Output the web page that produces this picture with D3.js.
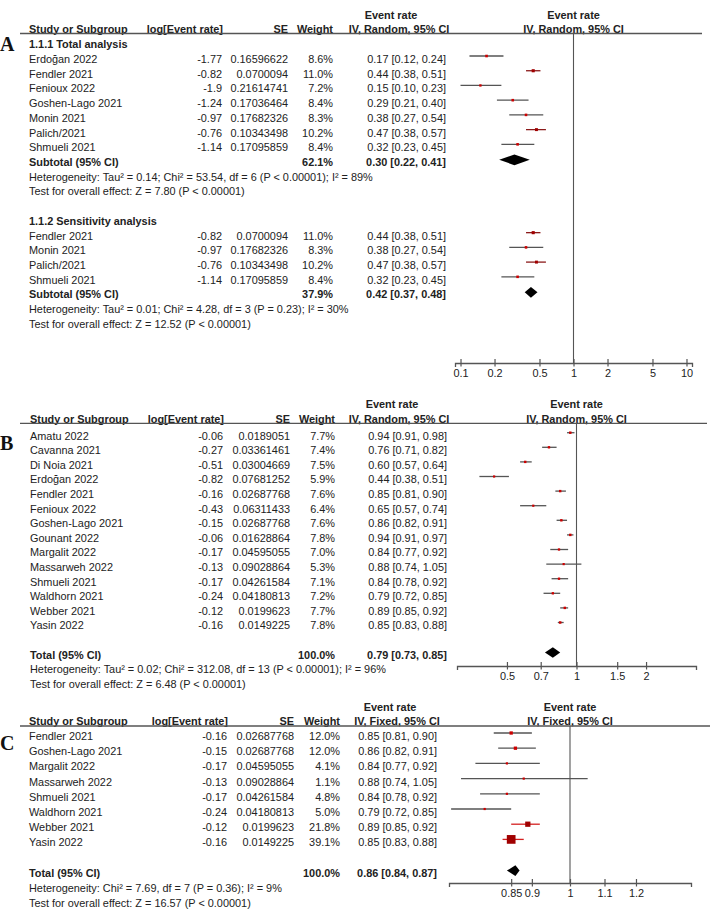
<!DOCTYPE html>
<html>
<head>
<meta charset="utf-8">
<script src="https://cdn.jsdelivr.net/npm/d3@7"></script>
<style>
  body { margin: 0; background: #fff; }
  svg text { font-family: "Liberation Sans", Arial, sans-serif; font-size: 10.9px; fill: #222; }
</style>
</head>
<body>
<div id="chart"></div>
<script>
// ---- panel A, 1.1.1 total analysis
const namesA1 = ["Erdoğan 2022", "Fendler 2021", "Fenioux 2022", "Goshen-Lago 2021", "Monin 2021", "Palich/2021", "Shmueli 2021"];
const logA1 = [-1.77, -0.82, -1.9, -1.24, -0.97, -0.76, -1.14];
const seA1 = [0.16596622, 0.0700094, 0.21614741, 0.17036464, 0.17682326, 0.10343498, 0.17095859];
const wA1 = [8.6, 11.0, 7.2, 8.4, 8.3, 10.2, 8.4];
const erA1 = [0.17, 0.44, 0.15, 0.29, 0.38, 0.47, 0.32];
const loA1 = [0.12, 0.38, 0.10, 0.21, 0.27, 0.38, 0.23];
const hiA1 = [0.24, 0.51, 0.23, 0.40, 0.54, 0.57, 0.45];

// ---- panel A, 1.1.2 sensitivity analysis
const namesA2 = ["Fendler 2021", "Monin 2021", "Palich/2021", "Shmueli 2021"];
const logA2 = [-0.82, -0.97, -0.76, -1.14];
const seA2 = [0.0700094, 0.17682326, 0.10343498, 0.17095859];
const wA2 = [11.0, 8.3, 10.2, 8.4];
const erA2 = [0.44, 0.38, 0.47, 0.32];
const loA2 = [0.38, 0.27, 0.38, 0.23];
const hiA2 = [0.51, 0.54, 0.57, 0.45];

const subWA = [62.1, 37.9];
const subErA = [0.30, 0.42];
const subLoA = [0.22, 0.37];
const subHiA = [0.41, 0.48];
const hetA = ["Heterogeneity: Tau² = 0.14; Chi² = 53.54, df = 6 (P < 0.00001); I² = 89%",
              "Heterogeneity: Tau² = 0.01; Chi² = 4.28, df = 3 (P = 0.23); I² = 30%"];
const testA = ["Test for overall effect: Z = 7.80 (P < 0.00001)",
               "Test for overall effect: Z = 12.52 (P < 0.00001)"];
const ticksA = [0.1, 0.2, 0.5, 1, 2, 5, 10];

// ---- panel B
const namesB = ["Amatu 2022", "Cavanna 2021", "Di Noia 2021", "Erdoğan 2022", "Fendler 2021", "Fenioux 2022",
  "Goshen-Lago 2021", "Gounant 2022", "Margalit 2022", "Massarweh 2022", "Shmueli 2021", "Waldhorn 2021",
  "Webber 2021", "Yasin 2022"];
const logB = [-0.06, -0.27, -0.51, -0.82, -0.16, -0.43, -0.15, -0.06, -0.17, -0.13, -0.17, -0.24, -0.12, -0.16];
const seB = [0.0189051, 0.03361461, 0.03004669, 0.07681252, 0.02687768, 0.06311433, 0.02687768, 0.01628864,
  0.04595055, 0.09028864, 0.04261584, 0.04180813, 0.0199623, 0.0149225];
const wB = [7.7, 7.4, 7.5, 5.9, 7.6, 6.4, 7.6, 7.8, 7.0, 5.3, 7.1, 7.2, 7.7, 7.8];
const erB = [0.94, 0.76, 0.60, 0.44, 0.85, 0.65, 0.86, 0.94, 0.84, 0.88, 0.84, 0.79, 0.89, 0.85];
const loB = [0.91, 0.71, 0.57, 0.38, 0.81, 0.57, 0.82, 0.91, 0.77, 0.74, 0.78, 0.72, 0.85, 0.83];
const hiB = [0.98, 0.82, 0.64, 0.51, 0.90, 0.74, 0.91, 0.97, 0.92, 1.05, 0.92, 0.85, 0.92, 0.88];
const totB = [100.0, 0.79, 0.73, 0.85];
const hetB = "Heterogeneity: Tau² = 0.02; Chi² = 312.08, df = 13 (P < 0.00001); I² = 96%";
const testB = "Test for overall effect: Z = 6.48 (P < 0.00001)";
const ticksB = [0.5, 0.7, 1, 1.5, 2];

// ---- panel C
const namesC = ["Fendler 2021", "Goshen-Lago 2021", "Margalit 2022", "Massarweh 2022", "Shmueli 2021",
  "Waldhorn 2021", "Webber 2021", "Yasin 2022"];
const logC = [-0.16, -0.15, -0.17, -0.13, -0.17, -0.24, -0.12, -0.16];
const seC = [0.02687768, 0.02687768, 0.04595055, 0.09028864, 0.04261584, 0.04180813, 0.0199623, 0.0149225];
const wC = [12.0, 12.0, 4.1, 1.1, 4.8, 5.0, 21.8, 39.1];
const erC = [0.85, 0.86, 0.84, 0.88, 0.84, 0.79, 0.89, 0.85];
const loC = [0.81, 0.82, 0.77, 0.74, 0.78, 0.72, 0.85, 0.83];
const hiC = [0.90, 0.91, 0.92, 1.05, 0.92, 0.85, 0.92, 0.88];
const totC = [100.0, 0.86, 0.84, 0.87];
const hetC = "Heterogeneity: Chi² = 7.69, df = 7 (P = 0.36); I² = 9%";
const testC = "Test for overall effect: Z = 16.57 (P < 0.00001)";
const ticksC = [0.85, 0.9, 1, 1.1, 1.2];

function studies(names, logs, ses, ws, ers, los, his) {
  return names.map((n, i) => ({type: "study", name: n, log: logs[i], se: ses[i], w: ws[i], er: ers[i], lo: los[i], hi: his[i]}));
}
const sum = (label, w, er, lo, hi) => ({type: "sum", label, w, er, lo, hi});
const note = text => ({type: "note", text});
const blank = {type: "blank"};

const rowsA = [
  {type: "heading", text: "1.1.1 Total analysis"},
  ...studies(namesA1, logA1, seA1, wA1, erA1, loA1, hiA1),
  sum("Subtotal (95% CI)", subWA[0], subErA[0], subLoA[0], subHiA[0]),
  note(hetA[0]), note(testA[0]), blank,
  {type: "heading", text: "1.1.2 Sensitivity analysis"},
  ...studies(namesA2, logA2, seA2, wA2, erA2, loA2, hiA2),
  sum("Subtotal (95% CI)", subWA[1], subErA[1], subLoA[1], subHiA[1]),
  note(hetA[1]), note(testA[1])
];
const rowsB = [
  ...studies(namesB, logB, seB, wB, erB, loB, hiB), blank,
  sum("Total (95% CI)", ...totB), note(hetB), note(testB)
];
const rowsC = [
  ...studies(namesC, logC, seC, wC, erC, loC, hiC), blank,
  sum("Total (95% CI)", ...totC), note(hetC), note(testC)
];

const svg = d3.select("#chart").append("svg").attr("width", 714).attr("height", 915);

const fmt2 = d => d.toFixed(2);
const ciText = r => `${fmt2(r.er)} [${fmt2(r.lo)}, ${fmt2(r.hi)}]`;
const boxSize = w => Math.max(2.2, 0.2 * w + 0.9);

function drawPanel(p) {
  const g = svg.append("g");
  const x = d3.scaleLog().domain(p.domain).range(p.range);
  const mid = x(1);

  g.append("text").attr("x", 0).attr("y", p.letterY).text(p.letter)
    .style("font-family", '"Liberation Serif", "Times New Roman", serif')
    .style("font-weight", "bold").style("font-size", "20px").style("fill", "#111");

  // column headers
  const bold = (t, xx, yy, anchor) => g.append("text").attr("x", xx).attr("y", yy)
    .attr("text-anchor", anchor).style("font-weight", "bold").text(t);
  bold("Event rate", p.evX, p.h1, "middle");
  bold("Event rate", mid, p.h1, "middle");
  bold("Study or Subgroup", p.studyX, p.rule - 0.6, "start");
  bold("log[Event rate]", p.logR + 1, p.rule - 0.6, "end");
  bold("SE", p.seR, p.rule - 0.6, "end");
  bold("Weight", p.wR, p.rule - 0.6, "end");
  bold(p.method, p.ivX, p.rule - 0.6, "middle");
  bold(p.method, mid, p.rule - 0.6, "middle");
  g.append("line").attr("x1", 20).attr("x2", p.ruleEnd).attr("y1", p.rule).attr("y2", p.rule)
    .attr("stroke", "#555").attr("stroke-width", 1.3);

  // null line
  g.append("line").attr("x1", mid).attr("x2", mid).attr("y1", p.rule).attr("y2", p.axisY)
    .attr("stroke", "#555").attr("stroke-width", 1.1);

  p.rows.forEach((r, i) => {
    const yc = p.firstRow + i * p.pitch;
    const yb = yc + 3.9;
    const ym = yc - 3;
    const txt = (t, xx, anchor, isBold) => g.append("text").attr("x", xx).attr("y", yb)
      .attr("text-anchor", anchor).style("font-weight", isBold ? "bold" : "normal").text(t);
    if (r.type === "heading") {
      txt(r.text, p.studyX, "start", true);
    } else if (r.type === "note") {
      txt(r.text, p.studyX, "start", false);
    } else if (r.type === "study") {
      txt(r.name, p.studyX, "start");
      txt(String(r.log), p.logR, "end");
      txt(String(r.se), p.seR, "end");
      txt(r.w.toFixed(1) + "%", p.wR, "end");
      txt(ciText(r), p.ciR, "end");
      const hot = r.w >= p.hotW;
      g.append("line").attr("x1", x(r.lo)).attr("x2", x(r.hi)).attr("y1", ym).attr("y2", ym)
        .attr("stroke", hot ? p.hotColor : "#555").attr("stroke-width", 1.3);
      const s = boxSize(r.w);
      g.append("rect").attr("x", x(r.er) - s / 2).attr("y", ym - s / 2)
        .attr("width", s).attr("height", s).attr("fill", hot ? "#a00000" : "#cc0000");
    } else if (r.type === "sum") {
      txt(r.label, p.studyX, "start", true);
      txt(r.w.toFixed(1) + "%", p.wR, "end", true);
      txt(ciText(r), p.ciR, "end", true);
      const yd = yc - 2.2, hh = 5.3;
      g.append("path")
        .attr("d", `M${x(r.lo)},${yd}L${x(r.er)},${yd - hh}L${x(r.hi)},${yd}L${x(r.er)},${yd + hh}Z`)
        .attr("fill", "#000");
    }
  });

  // axis
  const ax = g.append("g").attr("transform", `translate(0,${p.axisY})`)
    .call(d3.axisBottom(x).tickValues(p.ticks).tickFormat(d => String(d)).tickSizeOuter(0).tickSize(4))
    .attr("font-size", 10.9).attr("font-family", '"Liberation Sans", Arial, sans-serif');
  ax.select(".domain").attr("stroke", "#555").attr("stroke-width", 1.3);
  ax.selectAll(".tick line").attr("y1", -4).attr("y2", 3.5).attr("stroke", "#555").attr("stroke-width", 1.2);
  ax.selectAll(".tick text").attr("y", 6);
}

drawPanel({
  letter: "A", letterY: 51, rows: rowsA, method: "IV, Random, 95% CI",
  h1: 18.9, rule: 33.5, ruleEnd: 702, firstRow: 44.3, pitch: 14.72,
  studyX: 29, logR: 222, seR: 288, wR: 333, ciR: 446, evX: 391, ivX: 399,
  domain: [1 / 11.19, 11.19], range: [455, 692], axisY: 363, ticks: ticksA,
  hotW: 10, hotColor: "#8b1a1a"
});
drawPanel({
  letter: "B", letterY: 450, rows: rowsB, method: "IV, Random, 95% CI",
  h1: 408.2, rule: 423.3, ruleEnd: 707, firstRow: 435.7, pitch: 14.6,
  studyX: 30, logR: 223, seR: 290, wR: 335, ciR: 447, evX: 392, ivX: 399,
  domain: [1 / 3.29, 3.29], range: [457, 696], axisY: 666, ticks: ticksB,
  hotW: 100, hotColor: "#8b1a1a"
});
drawPanel({
  letter: "C", letterY: 750, rows: rowsC, method: "IV, Fixed, 95% CI",
  h1: 710.9, rule: 726, ruleEnd: 710, firstRow: 736, pitch: 15.2,
  studyX: 29, logR: 227, seR: 294, wR: 340, ciR: 437, evX: 390, ivX: 397,
  domain: [1 / 1.397, 1.397], range: [449, 691], axisY: 883, ticks: ticksC,
  hotW: 20, hotColor: "#d42020"
});
</script>
</body>
</html>
